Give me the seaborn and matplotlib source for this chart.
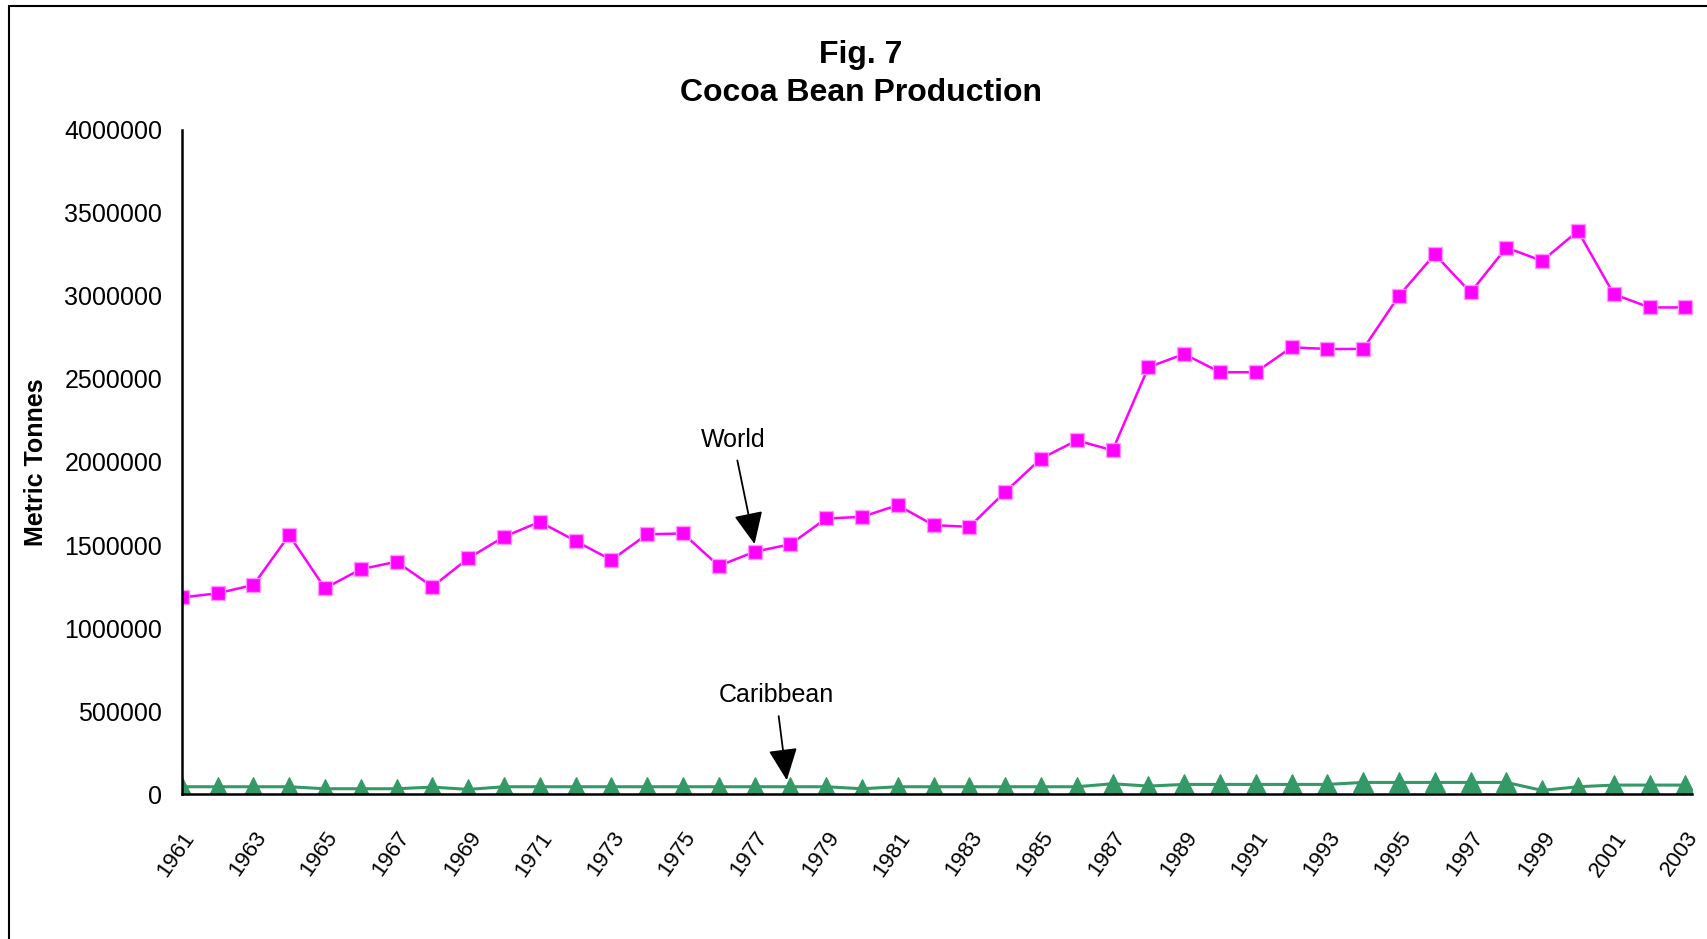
import matplotlib
matplotlib.use("Agg")
import matplotlib.pyplot as plt
import seaborn as sns
import pandas as pd
import numpy as np
from matplotlib.lines import Line2D

# Data
years = list(range(1961, 2004))
world = [1185000, 1210000, 1260000, 1560000, 1240000, 1355000, 1400000, 1250000, 1420000, 1550000,
         1640000, 1525000, 1410000, 1565000, 1570000, 1375000, 1460000, 1505000, 1660000, 1670000,
         1740000, 1620000, 1610000, 1820000, 2020000, 2130000, 2070000, 2570000, 2650000, 2540000,
         2540000, 2690000, 2680000, 2680000, 3000000, 3250000, 3020000, 3290000, 3210000, 3390000,
         3010000, 2930000, 2930000]
caribbean = [46000, 46000, 46000, 46000, 34000, 34000, 34000, 44000, 30000, 46000,
             46000, 46000, 46000, 46000, 46000, 46000, 46000, 46000, 46000, 34000,
             46000, 46000, 46000, 46000, 46000, 46000, 64000, 50000, 60000, 60000,
             60000, 60000, 60000, 72000, 72000, 72000, 72000, 72000, 24000, 46000,
             56000, 56000, 56000]
yticks = [0, 500000, 1000000, 1500000, 2000000, 2500000, 3000000, 3500000, 4000000]

df = pd.DataFrame({'Year': years, 'World': world, 'Caribbean': caribbean})

sns.set_style("white")
plt.rcParams['font.family'] = ['Liberation Sans', 'DejaVu Sans']
plt.rcParams['text.color'] = 'black'
plt.rcParams['axes.labelcolor'] = 'black'
plt.rcParams['xtick.color'] = 'black'
plt.rcParams['ytick.color'] = 'black'

fig = plt.figure(figsize=(17.07, 9.39), dpi=100)
ax = fig.add_axes([0.1065, 0.154, 0.885, 0.708])

sns.lineplot(data=df, x='Year', y='World', ax=ax, color='#FF00FF', linewidth=1.8,
             marker='s', markersize=10, markerfacecolor='#FF00FF', markeredgecolor='#FF99FF',
             markeredgewidth=1.0)
sns.lineplot(data=df, x='Year', y='Caribbean', ax=ax, color='#339966', linewidth=2.2,
             marker='^', markersize=14, markerfacecolor='#339966', markeredgecolor='#339966')

ax.set_xlim(1961, 2003.2)
ax.set_ylim(0, 4000000)
ax.set_yticks(yticks)
ax.set_yticklabels([str(v) for v in yticks], fontsize=18)
ax.set_xticks(years)
ax.set_xticklabels([str(y) if (y - 1961) % 2 == 0 else '' for y in years],
                   rotation=55, ha='right', rotation_mode='anchor', fontsize=16)
ax.tick_params(axis='y', direction='out', length=8, width=1.5, color='black', pad=6)
ax.tick_params(axis='x', direction='out', length=8, width=1.5, color='black', pad=16)
ax.set_xlabel('')
ax.set_ylabel('Metric Tonnes', fontsize=18, fontweight='bold', labelpad=12)

sns.despine(ax=ax)
for s in ['left', 'bottom']:
    ax.spines[s].set_color('black')
    ax.spines[s].set_linewidth(1.8)

fig.text(0.5045, 0.921, 'Fig. 7\nCocoa Bean Production', fontsize=23, fontweight='bold',
         linespacing=1.35, ha='center', va='center')

# annotations
ax.annotate('World', xy=(1977.0, 1506000), xytext=(1976.4, 2134000), fontsize=18,
            ha='center', va='center',
            arrowprops=dict(arrowstyle='-|>,head_length=1.1,head_width=0.5', color='black',
                            lw=1.3, shrinkA=4, shrinkB=0))
ax.annotate('Caribbean', xy=(1977.9, 85000), xytext=(1977.6, 596000), fontsize=18,
            ha='center', va='center',
            arrowprops=dict(arrowstyle='-|>,head_length=1.1,head_width=0.5', color='black',
                            lw=1.3, shrinkA=4, shrinkB=0))

# outer frame
fig.add_artist(Line2D([0.005, 1.0], [0.994, 0.994], transform=fig.transFigure, color='black', lw=1.5))
fig.add_artist(Line2D([0.005, 0.005], [0.0, 0.994], transform=fig.transFigure, color='black', lw=1.5))

fig.savefig('out.png', dpi=100)
